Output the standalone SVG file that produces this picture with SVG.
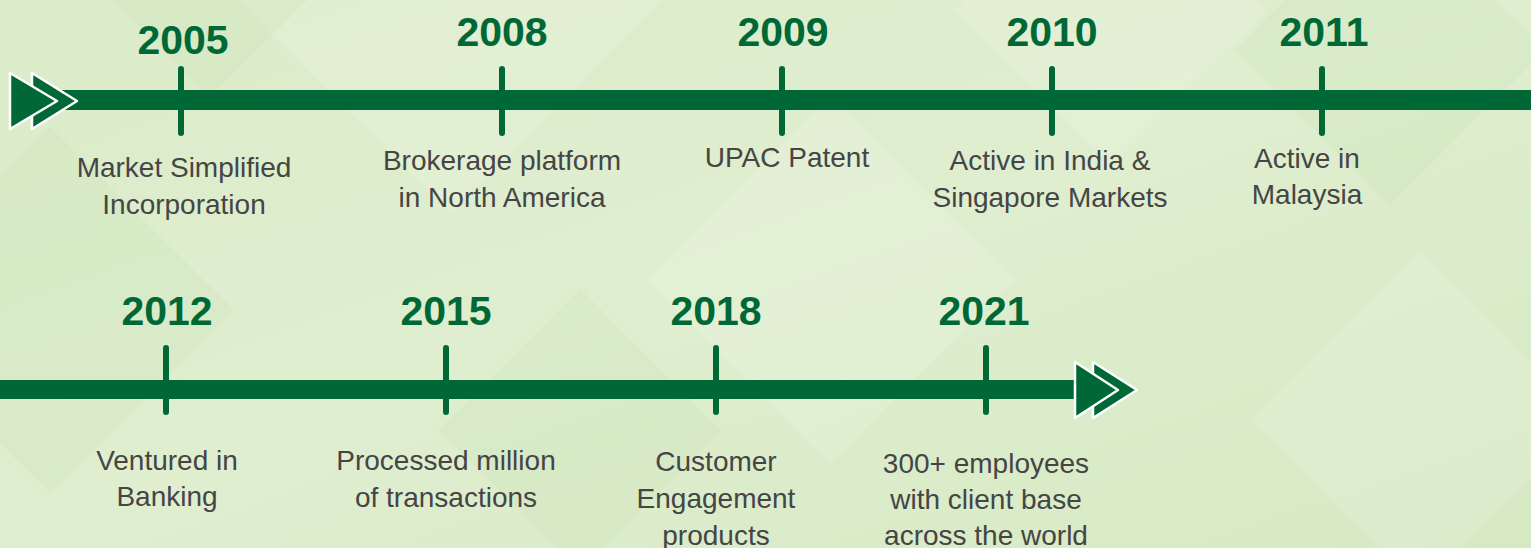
<svg xmlns="http://www.w3.org/2000/svg" width="1531" height="548" viewBox="0 0 1531 548">
<defs>
<linearGradient id="bg" x1="0" y1="0" x2="1" y2="1">
<stop offset="0" stop-color="#dcecca"/>
<stop offset="0.5" stop-color="#dfeecf"/>
<stop offset="1" stop-color="#d6e9c3"/>
</linearGradient>
<style>
.yr{font-family:"Liberation Sans",Arial,sans-serif;font-weight:bold;font-size:41px;fill:#006837;text-anchor:middle}
.ds{font-family:"Liberation Sans",Arial,sans-serif;font-size:28px;fill:#454545;text-anchor:middle}
.tk{stroke:#006837;stroke-width:6;stroke-linecap:round}
.bar{fill:#006837}
.tri{fill:#006837;stroke:#ffffff;stroke-width:2.5;stroke-linejoin:round}
.lt{fill:#ffffff;opacity:0.12}
.dk{fill:#b9d9a3;opacity:0.14}
</style>
</defs>
<g id="background">
<rect width="1531" height="548" fill="url(#bg)"/>
<rect class="lt" x="300" y="-150" width="300" height="300" transform="rotate(45 450 0)"/>
<rect class="lt" x="700" y="150" width="260" height="260" transform="rotate(45 830 280)"/>
<rect class="dk" x="-80" y="180" width="260" height="260" transform="rotate(45 50 310)"/>
<rect class="dk" x="1280" y="-60" width="220" height="220" transform="rotate(45 1390 50)"/>
<rect class="lt" x="1300" y="300" width="240" height="240" transform="rotate(45 1420 420)"/>
<rect class="dk" x="480" y="330" width="200" height="200" transform="rotate(45 580 430)"/>
<rect class="lt" x="1000" y="-100" width="220" height="220" transform="rotate(45 1110 10)"/>
<rect class="dk" x="120" y="-120" width="180" height="180" transform="rotate(45 210 -30)"/>
</g>
<g id="connectors">
<rect class="bar" x="60" y="90" width="1471" height="20"/>
<rect class="bar" x="0" y="380" width="1085" height="19"/>
<polygon class="tri" points="32,73 77,101 32,129"/>
<polygon class="tri" points="10,73 57,101 10,129"/>
<polygon class="tri" points="1093,362 1137,390 1093,418"/>
<polygon class="tri" points="1075,362 1118,390 1075,418"/>
</g>
<g id="n2005">
<line class="tk" x1="181" y1="69" x2="181" y2="133"/>
<text class="yr" x="183" y="54">2005</text>
<text class="ds" x="184" y="177">Market Simplified</text>
<text class="ds" x="184" y="214">Incorporation</text>
</g>
<g id="n2008">
<line class="tk" x1="502" y1="69" x2="502" y2="133"/>
<text class="yr" x="502" y="46">2008</text>
<text class="ds" x="502" y="170">Brokerage platform</text>
<text class="ds" x="502" y="207">in North America</text>
</g>
<g id="n2009">
<line class="tk" x1="782" y1="69" x2="782" y2="133"/>
<text class="yr" x="783" y="46">2009</text>
<text class="ds" x="787" y="167">UPAC Patent</text>
</g>
<g id="n2010">
<line class="tk" x1="1052" y1="69" x2="1052" y2="133"/>
<text class="yr" x="1052" y="46">2010</text>
<text class="ds" x="1050" y="170">Active in India &amp;</text>
<text class="ds" x="1050" y="207">Singapore Markets</text>
</g>
<g id="n2011">
<line class="tk" x1="1322" y1="69" x2="1322" y2="133"/>
<text class="yr" x="1324" y="46">2011</text>
<text class="ds" x="1307" y="168">Active in</text>
<text class="ds" x="1307" y="204">Malaysia</text>
</g>
<g id="n2012">
<line class="tk" x1="166" y1="348" x2="166" y2="412"/>
<text class="yr" x="167" y="325">2012</text>
<text class="ds" x="167" y="470">Ventured in</text>
<text class="ds" x="167" y="506">Banking</text>
</g>
<g id="n2015">
<line class="tk" x1="446" y1="348" x2="446" y2="412"/>
<text class="yr" x="446" y="325">2015</text>
<text class="ds" x="446" y="470">Processed million</text>
<text class="ds" x="446" y="507">of transactions</text>
</g>
<g id="n2018">
<line class="tk" x1="716" y1="348" x2="716" y2="412"/>
<text class="yr" x="716" y="325">2018</text>
<text class="ds" x="716" y="471">Customer</text>
<text class="ds" x="716" y="508">Engagement</text>
<text class="ds" x="716" y="545">products</text>
</g>
<g id="n2021">
<line class="tk" x1="986" y1="348" x2="986" y2="412"/>
<text class="yr" x="984" y="325">2021</text>
<text class="ds" x="986" y="473">300+ employees</text>
<text class="ds" x="986" y="509">with client base</text>
<text class="ds" x="986" y="545">across the world</text>
</g>
</svg>
